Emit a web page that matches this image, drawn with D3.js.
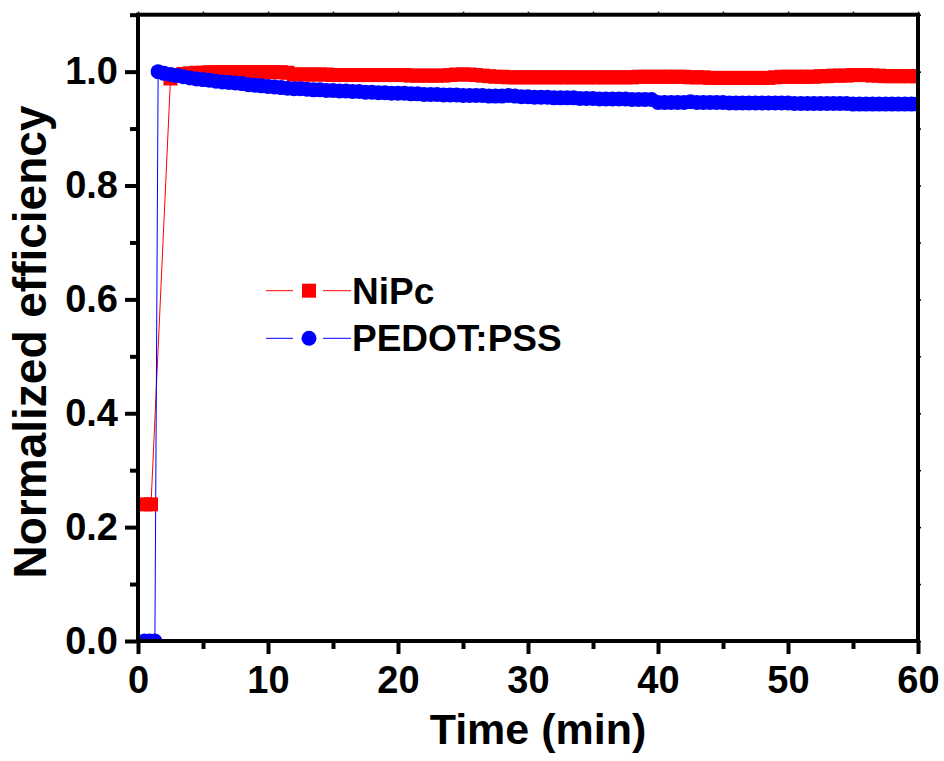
<!DOCTYPE html>
<html>
<head>
<meta charset="utf-8">
<script src="https://cdn.jsdelivr.net/npm/d3@7"></script>
<style>
  body { margin: 0; background: #fff; }
  svg { display: block; font-family: "Liberation Sans", Arial, sans-serif; font-weight: bold; }
</style>
</head>
<body>
<svg id="chart" width="944" height="761"></svg>
<script>
// Time grid (min) shared by both series after the jump
const tailTimes = [2.5, 3, 3.5, 4, 4.5, 5, 5.5, 6, 6.5, 7, 7.5, 8, 8.5, 9, 9.5, 10,
    10.5, 11, 11.5, 12, 12.5, 13, 13.5, 14, 14.5, 15, 15.5, 16, 16.5, 17, 17.5, 18,
    18.5, 19, 19.5, 20, 20.5, 21, 21.5, 22, 22.5, 23, 23.5, 24, 24.5, 25, 25.5, 26,
    26.5, 27, 27.5, 28, 28.5, 29, 29.5, 30, 30.5, 31, 31.5, 32, 32.5, 33, 33.5, 34,
    34.5, 35, 35.5, 36, 36.5, 37, 37.5, 38, 38.5, 39, 39.5, 40, 40.5, 41, 41.5, 42,
    42.5, 43, 43.5, 44, 44.5, 45, 45.5, 46, 46.5, 47, 47.5, 48, 48.5, 49, 49.5, 50,
    50.5, 51, 51.5, 52, 52.5, 53, 53.5, 54, 54.5, 55, 55.5, 56, 56.5, 57, 57.5, 58,
    58.5, 59, 59.5, 60];

// NiPc: first points before the jump, then the plateau
const nipcHeadTimes = [0.5, 1.0];
const nipcHeadValues = [0.24, 0.24];
const nipcTailValues = [0.988, 0.994, 0.996, 0.997, 0.998, 0.998, 0.999, 0.999, 0.999, 0.999, 0.999, 0.999, 0.999, 0.999, 0.999, 0.999,
    0.999, 0.999, 0.998, 0.995, 0.995, 0.995, 0.995, 0.995, 0.995, 0.994, 0.994, 0.994, 0.994, 0.994, 0.994, 0.994,
    0.994, 0.994, 0.994, 0.994, 0.994, 0.993, 0.993, 0.993, 0.993, 0.993, 0.993, 0.994, 0.995, 0.995, 0.995, 0.994,
    0.993, 0.992, 0.991, 0.991, 0.990, 0.990, 0.990, 0.990, 0.990, 0.990, 0.990, 0.990, 0.990, 0.990, 0.990, 0.990,
    0.990, 0.990, 0.990, 0.990, 0.990, 0.990, 0.990, 0.990, 0.991, 0.991, 0.991, 0.991, 0.991, 0.991, 0.991, 0.991,
    0.990, 0.990, 0.990, 0.989, 0.989, 0.989, 0.989, 0.989, 0.989, 0.989, 0.989, 0.989, 0.989, 0.990, 0.991, 0.991,
    0.991, 0.991, 0.991, 0.991, 0.992, 0.992, 0.993, 0.993, 0.993, 0.994, 0.994, 0.994, 0.993, 0.993, 0.992, 0.992,
    0.992, 0.992, 0.992, 0.992];

// PEDOT:PSS: zero before the jump, peak, then slow decay
const pedotHeadTimes = [0.5, 0.9, 1.3, 1.55, 2.0];
const pedotHeadValues = [0, 0, 0, 1.0, 0.997];
const pedotTailValues = [0.995, 0.993, 0.991, 0.989, 0.987, 0.986, 0.985, 0.983, 0.982, 0.981, 0.980, 0.979, 0.977, 0.976, 0.975, 0.974,
    0.973, 0.972, 0.971, 0.970, 0.970, 0.969, 0.968, 0.968, 0.967, 0.967, 0.966, 0.966, 0.965, 0.965, 0.964, 0.964,
    0.963, 0.963, 0.962, 0.962, 0.962, 0.961, 0.961, 0.960, 0.960, 0.960, 0.959, 0.959, 0.959, 0.958, 0.958, 0.958,
    0.958, 0.957, 0.957, 0.957, 0.958, 0.957, 0.956, 0.956, 0.955, 0.955, 0.955, 0.954, 0.954, 0.954, 0.954, 0.953,
    0.953, 0.953, 0.952, 0.952, 0.952, 0.952, 0.952, 0.951, 0.951, 0.951, 0.951, 0.946, 0.946, 0.946, 0.946, 0.946,
    0.947, 0.946, 0.946, 0.946, 0.946, 0.946, 0.945, 0.945, 0.945, 0.945, 0.945, 0.945, 0.945, 0.945, 0.945, 0.945,
    0.944, 0.944, 0.944, 0.944, 0.944, 0.944, 0.944, 0.944, 0.944, 0.943, 0.943, 0.943, 0.943, 0.943, 0.943, 0.943,
    0.943, 0.943, 0.943, 0.943];

const xMajorTicks = [0, 10, 20, 30, 40, 50, 60];
const xMinorTicks = [5, 15, 25, 35, 45, 55];
const yMajorTicks = [0, 0.2, 0.4, 0.6, 0.8, 1.0];
const yMinorTicks = [0.1, 0.3, 0.5, 0.7, 0.9, 1.1];

const seriesNames = ["NiPc", "PEDOT:PSS"];
const seriesColors = ["#ff0000", "#0000ff"];

const svg = d3.select("#chart");

const x = d3.scaleLinear().domain([0, 60]).range([138, 918]);
const y = d3.scaleLinear().domain([0, 1.1]).range([641, 14.7]);

const toPoints = (times, values) => times.map((t, i) => ({ t: t, v: values[i] }));
const nipc = toPoints(nipcHeadTimes.concat(tailTimes), nipcHeadValues.concat(nipcTailValues));
const pedot = toPoints(pedotHeadTimes.concat(tailTimes), pedotHeadValues.concat(pedotTailValues));

// clip to the plot box
svg.append("clipPath").attr("id", "plotClip")
  .append("rect")
  .attr("x", x(0)).attr("y", y(1.1))
  .attr("width", x(60) - x(0)).attr("height", y(0) - y(1.1));

const plot = svg.append("g").attr("clip-path", "url(#plotClip)");

const line = d3.line().x(d => x(d.t)).y(d => y(d.v));

// lines first, then symbols (blue symbols on top)
plot.append("path").datum(nipc)
  .attr("d", line).attr("fill", "none")
  .attr("stroke", seriesColors[0]).attr("stroke-width", 1);
plot.append("path").datum(pedot)
  .attr("d", line).attr("fill", "none")
  .attr("stroke", seriesColors[1]).attr("stroke-width", 1);

const sq = 14;
plot.selectAll(".sq").data(nipc).enter().append("rect")
  .attr("class", "sq")
  .attr("x", d => x(d.t) - sq / 2).attr("y", d => y(d.v) - sq / 2)
  .attr("width", sq).attr("height", sq)
  .attr("fill", seriesColors[0]);

plot.selectAll(".dot").data(pedot).enter().append("circle")
  .attr("class", "dot")
  .attr("cx", d => x(d.t)).attr("cy", d => y(d.v))
  .attr("r", 7.5)
  .attr("fill", seriesColors[1]);

// Axes
const axisW = 4;
function styleAxis(g) {
  g.select(".domain").remove();
  g.selectAll(".tick line").attr("stroke", "#000").attr("stroke-width", axisW);
  g.selectAll(".tick text").attr("fill", "#000")
    .style("font-size", "38px").style("font-weight", "bold")
    .style("font-family", "'Liberation Sans', Arial, sans-serif");
}

svg.append("g").attr("transform", `translate(0,${y(0)})`)
  .call(d3.axisBottom(x).tickValues(xMajorTicks).tickSize(13).tickPadding(3).tickFormat(d3.format("d")))
  .call(styleAxis)
  .call(g => g.selectAll(".tick text").attr("dy", "0.95em"));

svg.append("g").attr("transform", `translate(0,${y(0)})`)
  .call(d3.axisBottom(x).tickValues(xMinorTicks).tickSize(8).tickFormat(""))
  .call(styleAxis);

svg.append("g").attr("transform", `translate(${x(0)},0)`)
  .call(d3.axisLeft(y).tickValues(yMajorTicks).tickSize(13).tickPadding(7).tickFormat(d3.format(".1f")))
  .call(styleAxis);

svg.append("g").attr("transform", `translate(${x(0)},0)`)
  .call(d3.axisLeft(y).tickValues(yMinorTicks).tickSize(8).tickFormat(""))
  .call(styleAxis);

// tiny outward ticks on the top and right edges
svg.append("g").attr("transform", `translate(0,${y(1.1)})`)
  .call(d3.axisTop(x).tickValues(xMajorTicks.concat(xMinorTicks)).tickSize(3).tickFormat(""))
  .call(g => { g.select(".domain").remove(); g.selectAll(".tick line").attr("stroke", "#000").attr("stroke-width", 1.5); });
svg.append("g").attr("transform", `translate(${x(60)},0)`)
  .call(d3.axisRight(y).tickValues(yMajorTicks.concat(yMinorTicks)).tickSize(3).tickFormat(""))
  .call(g => { g.select(".domain").remove(); g.selectAll(".tick line").attr("stroke", "#000").attr("stroke-width", 1.5); });

// frame
svg.append("rect")
  .attr("x", x(0)).attr("y", y(1.1))
  .attr("width", x(60) - x(0)).attr("height", y(0) - y(1.1))
  .attr("fill", "none").attr("stroke", "#000").attr("stroke-width", axisW);

// Axis titles
svg.append("text")
  .attr("x", (x(0) + x(60)) / 2 + 10).attr("y", 744)
  .attr("text-anchor", "middle")
  .style("font-size", "43px")
  .text("Time (min)");

svg.append("text")
  .attr("transform", `translate(46,${342}) rotate(-90)`)
  .attr("text-anchor", "middle")
  .style("font-size", "46px")
  .text("Normalized efficiency");

// Legend
const legendRows = [290.7, 338.3];
const legend = svg.append("g");
seriesNames.forEach((name, i) => {
  const row = legend.append("g").attr("transform", `translate(0,${legendRows[i]})`);
  row.append("line").attr("x1", 266).attr("x2", 293).attr("y1", 0).attr("y2", 0)
    .attr("stroke", seriesColors[i]).attr("stroke-width", 1);
  row.append("line").attr("x1", 323).attr("x2", 351).attr("y1", 0).attr("y2", 0)
    .attr("stroke", seriesColors[i]).attr("stroke-width", 1);
  if (i === 0) {
    row.append("rect").attr("x", 309 - sq / 2).attr("y", -sq / 2)
      .attr("width", sq).attr("height", sq).attr("fill", seriesColors[i]);
  } else {
    row.append("circle").attr("cx", 309).attr("cy", 0).attr("r", 7.5).attr("fill", seriesColors[i]);
  }
  row.append("text").attr("x", 352).attr("y", 0).attr("dy", "0.35em")
    .style("font-size", "37px")
    .text(name);
});
</script>
</body>
</html>
